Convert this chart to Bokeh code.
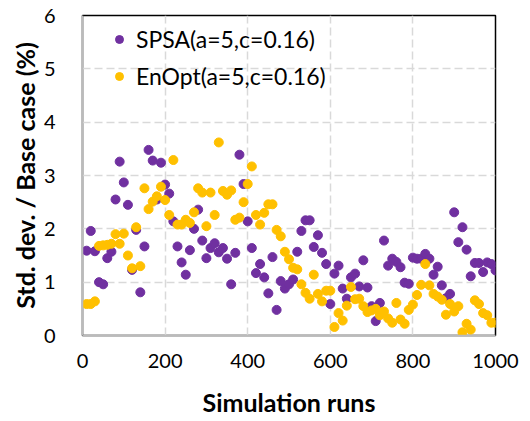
from bokeh.plotting import figure
from bokeh.models import Legend, LegendItem, Range1d, FixedTicker, ColumnDataSource
from bokeh.embed import file_html
from bokeh.resources import INLINE

# ---- data ----
runs = [10, 20, 30, 40, 50, 60, 70, 80, 90, 100,
        110, 120, 130, 140, 150, 160, 170, 180, 190, 200,
        210, 220, 230, 240, 250, 260, 270, 280, 290, 300,
        310, 320, 330, 340, 350, 360, 370, 380, 390, 400,
        410, 420, 430, 440, 450, 460, 470, 480, 490, 500,
        510, 520, 530, 540, 550, 560, 570, 580, 590, 600,
        610, 620, 630, 640, 650, 660, 670, 680, 690, 700,
        710, 720, 730, 740, 750, 760, 770, 780, 790, 800,
        810, 820, 830, 840, 850, 860, 870, 880, 890, 900,
        910, 920, 930, 940, 950, 960, 970, 980, 990, 1000]

spsa = [1.59, 1.96, 1.58, 1.00, 0.96, 1.45, 1.57, 2.55, 3.26, 2.87,
        2.45, 1.23, 1.98, 0.81, 1.67, 3.48, 3.28, 2.55, 3.24, 2.83,
        2.66, 2.14, 1.67, 1.37, 1.14, 1.60, 2.00, 2.36, 1.78, 1.45,
        1.64, 1.73, 1.56, 1.64, 1.44, 0.96, 1.55, 3.39, 2.84, 2.14,
        1.64, 1.17, 1.34, 1.09, 0.79, 1.47, 0.48, 1.02, 0.88, 0.96,
        1.05, 1.57, 1.96, 2.16, 2.16, 1.66, 1.88, 1.55, 1.34, 0.59,
        1.16, 1.31, 0.88, 0.69, 1.09, 1.16, 0.92, 1.41, 0.90, 0.55,
        0.27, 0.61, 1.78, 1.31, 1.44, 1.38, 1.28, 0.99, 0.97, 1.46,
        1.44, 1.44, 1.53, 1.44, 1.14, 1.29, 0.94, 0.70, 0.78, 2.31,
        1.75, 2.03, 1.61, 1.11, 1.36, 1.36, 1.19, 1.37, 1.34, 1.22]

enopt = [0.59, 0.59, 0.64, 1.68, 1.69, 1.70, 1.72, 1.90, 1.72, 1.91,
         1.50, 1.26, 2.03, 1.30, 2.76, 2.37, 2.51, 2.61, 2.79, 2.54,
         2.26, 3.29, 2.08, 2.08, 2.17, 2.11, 2.31, 2.76, 2.68, 2.05,
         2.68, 2.26, 3.62, 2.71, 2.64, 2.72, 2.17, 2.21, 2.50, 2.84,
         3.17, 2.26, 2.08, 2.30, 2.46, 2.46, 1.98, 1.86, 1.57, 1.43,
         1.27, 1.24, 0.96, 0.80, 0.69, 1.14, 0.78, 0.64, 0.84, 0.84,
         0.16, 0.42, 0.28, 0.56, 0.91, 0.68, 0.69, 0.55, 0.44, 0.47,
         0.50, 0.38, 0.45, 0.32, 0.24, 0.61, 0.30, 0.22, 0.48, 0.58,
         0.76, 0.95, 1.34, 0.94, 0.78, 0.73, 0.67, 0.39, 0.59, 0.45,
         0.55, 0.06, 0.22, 0.11, 0.66, 0.59, 0.42, 0.38, 0.24, 0.24]

series_labels = ["SPSA(a=5,c=0.16)", "EnOpt(a=5,c=0.16)"]
x_ticks = [0, 200, 400, 600, 800, 1000]
y_ticks = [0, 1, 2, 3, 4, 5, 6]
x_title = "Simulation runs"
y_title = "Std. dev. / Base case (%)"

FONT = "Lato"
PURPLE = "#7030A0"
GOLD = "#FFC000"

src = ColumnDataSource(data=dict(runs=runs, spsa=spsa, enopt=enopt))

p = figure(width=530, height=421, output_backend="svg", toolbar_location=None,
           x_range=Range1d(0, 1000), y_range=Range1d(0, 6),
           min_border_left=82, min_border_right=35,
           min_border_top=15, min_border_bottom=86)

p.outline_line_color = "black"
p.outline_line_width = 1.5

r1 = p.scatter(x="runs", y="spsa", source=src, size=9, fill_color=PURPLE,
               line_color=PURPLE)
r2 = p.scatter(x="runs", y="enopt", source=src, size=9, fill_color=GOLD,
               line_color=GOLD)

# axes
p.xaxis.ticker = FixedTicker(ticks=x_ticks)
p.yaxis.ticker = FixedTicker(ticks=y_ticks)
for ax in (p.xaxis[0], p.yaxis[0]):
    ax.axis_line_color = "#BBBBBB"
    ax.axis_line_width = 1.5
    ax.major_tick_line_color = None
    ax.minor_tick_line_color = None
    ax.major_tick_out = 0
    ax.major_tick_in = 0
    ax.minor_tick_out = 0
    ax.minor_tick_in = 0
    ax.major_label_text_font = FONT
    ax.major_label_text_font_size = "20px"
    ax.major_label_text_color = "black"
    ax.axis_label_text_font = FONT
    ax.axis_label_text_font_style = "bold"
    ax.axis_label_text_color = "black"
    ax.axis_label_text_font_size = "25px"

p.xaxis.axis_label = x_title
p.yaxis.axis_label = y_title
p.xaxis.major_label_standoff = 18
p.yaxis.major_label_standoff = 27
p.xaxis.axis_label_standoff = 16
p.yaxis.axis_label_standoff = 1

# grid
for g in (p.xgrid[0], p.ygrid[0]):
    g.grid_line_color = "#D9D9D9"
    g.grid_line_width = 1.5
    g.grid_line_dash = "8 4"
p.xgrid.ticker = FixedTicker(ticks=x_ticks)
p.ygrid.ticker = FixedTicker(ticks=y_ticks)

legend = Legend(items=[LegendItem(label=series_labels[0], renderers=[r1]),
                       LegendItem(label=series_labels[1], renderers=[r2])],
                location=(27, 245), border_line_color=None,
                background_fill_alpha=0, padding=0, margin=0, spacing=9,
                glyph_width=20, glyph_height=20, label_height=26,
                label_standoff=7, label_text_font=FONT,
                label_text_font_size="23px", label_text_color="black")
p.add_layout(legend)

open("out.html", "w").write(file_html(p, INLINE))
